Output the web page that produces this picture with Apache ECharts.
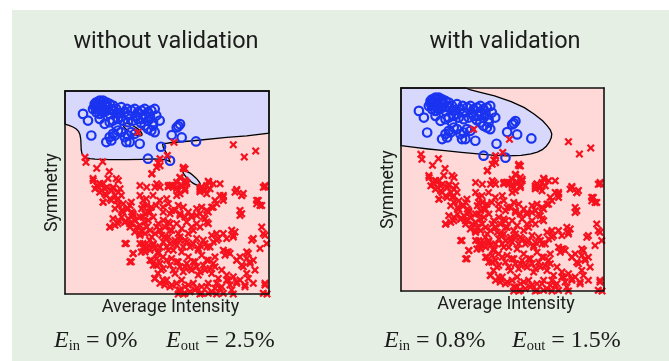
<!DOCTYPE html>
<html><head><meta charset="utf-8">
<script src="https://cdn.jsdelivr.net/npm/echarts@6/dist/echarts.min.js"></script>
<style>
html,body{margin:0;padding:0;background:#fff;}
#wrap{position:relative;width:669px;height:361px;background:#fff;overflow:hidden;}
#bg{position:absolute;left:12px;top:10px;right:0;bottom:0;background:#e5efe3;}
#c{position:absolute;left:0;top:0;width:669px;height:361px;}
</style>
</head><body>
<div id="wrap"><div id="bg"></div><div id="c"></div></div>
<script>
// ---------- data ----------
const panelTitles = ['without validation', 'with validation'];
const xName = 'Average Intensity';
const yName = 'Symmetry';
const errIn = ['0%', '0.8%'];
const errOut = ['2.5%', '1.5%'];

// digit "1" samples (blue circles): [average intensity, symmetry]
const blueCircles = [
[18,181],[23,174.3],[26.3,159.3],[29.7,191],[31.3,192.7],[34.7,194.3],[38,194.3],[41.3,192.7],[44.7,191],[33,187.7],
[36.3,189.3],[39.7,189.3],[43,187.7],[48,189.3],[28,186],[31.3,182.7],[34.7,181],[38,182.7],[41.3,184.3],[44.7,181],
[48,184.3],[51.3,186],[56.3,187.7],[59.7,182.7],[63,179.3],[66.3,184.3],[69.7,186],[73,182.7],[76.3,184.3],[79.7,186],
[83,182.7],[86.3,184.3],[89.7,186],[91.3,179.3],[94.7,174.3],[88,172.7],[83,174.3],[78,176],[73,176],[68,174.3],
[63,172.7],[58,174.3],[53,176],[48,174.3],[44.7,172.7],[39.7,171],[34.7,176],[51.3,169.3],[53,164.3],[48,161],
[44.7,157.7],[41.3,152.7],[46.3,154.3],[49.7,159.3],[56.3,162.7],[59.7,157.7],[63,159.3],[66.3,162.7],[69.7,161],[74.7,151],
[64.7,152.7],[61.3,152.7],[79.7,169.3],[83,166],[86.3,164.3],[89.7,162.7],[88,169.3],[96,148],[83,136],[105,134],
[111.7,167.3],[115,170.7],[106.7,159.7],[116.7,157.3],[131,153.3],[113.3,168.7],
[32,190],[36,192],[40,191],[42,189],[35,185],[30,188],[46,186],[38,186],[54,182],[62,186],[71,179],[56,178],[80,180],[85,178],[76,172]
];

// digit "5" samples (red crosses): [average intensity, symmetry]
const redCrosses = [
[73,162.5],[168.3,150],[190.7,143.7],[179.3,137.7],[109,152.5],[102.3,139.3],[95,136],[95,129],
[118.3,126],[115,116.7],[120,114.3],[116.7,109.3],[111.7,106],[106.7,109.3],[103.3,107.7],[120,106],[143.3,113.3],[136.7,107.7],[140,104.3],[135,102.7],[171.7,105],[200,107.7],[178.3,101],
[20,137.3],[21,132.3],[31.7,126.3],[37.7,133],[44.3,123],[28.3,114],[31.7,109],[35,110.7],[30,105.7],[36.7,104],[53.3,114],[48.3,107.3],[53.3,102.3],[86.7,120.7],[91.7,127.3],[93.3,131.7],[118.3,127.3],[120,125.7],[115,117.3],[111.7,112.3],[116.7,109],[121.7,112.3],[108.3,107.3],[113.3,104],[93.3,109],[90,107.3],[103.3,109],[135,105.7],[141.7,109],[138.3,104],[158.3,99],[170,102.3],[200,109],
[43,116],[51.3,116],[28,116],[33,107.7],[39.7,106],[34.7,111],[48,106],[143.7,112.3],[136.4,107.3],[87,121],
[38.3,110.7],[41.7,107.3],[40,100.7],[46.7,104],[50,99],[45,95.7],[51.7,94],[38.3,92.3],[55,105.7],
[53.3,89],[56.7,84],[58.3,90.7],[61.7,85.7],[65,89],[66.7,82.3],[50,85.7],
[45,67.3],[50,69],[53.3,74],[56.7,77.3],[60,72.3],[63.3,75.7],[66.7,70.7],[70,74],[68.3,79],[65,67.3],
[60,50.7],[68.3,40.7],[65,32.3],
[75,99],[78.3,94],[81.7,89],[76.7,85.7],[80,80.7],[75,77.3],[85,82.3],[88.3,77.3],[83.3,74],
[71.7,67.3],[76.7,64],[75,59],[80,60.7],[81.7,67.3],[85,64],[86.7,57.3],[90,60.7],[91.7,67.3],[95,64],[93.3,70.7],[98.3,74],[96.7,59],[101.7,55.7],[100,67.3],[105,64],[103.3,72.3],
[75,50.7],[78.3,47.3],[80,42.3],[83.3,49],[85,44],[88.3,50.7],[90,45.7],[93.3,40.7],[95,47.3],[98.3,52.3],[101.7,47.3],[105,50.7],[108.3,44],[111.7,49],[115,54],[118.3,47.3],[121.7,52.3],[125,47.3],[128.3,50.7],[131.7,55.7],[133.3,44],[135,49],[138.3,54],[141.7,47.3],
[85,34],[88.3,29],[91.7,35.7],[95,30.7],[98.3,25.7],[101.7,34],[105,29],[108.3,24],[111.7,32.3],[115,27.3],[118.3,22.3],[121.7,30.7],[125,25.7],[128.3,32.3],[131.7,27.3],[135,22.3],[138.3,29],[141.7,34],[145,25.7],[148.3,30.7],[150,37.3],
[90,15.7],[95,10.7],[101.7,14],[105,7.3],[111.7,10.7],[115,4],[120,7.3],[125,2.3],[128.3,10.7],[131.7,5.7],[136.7,0.7],[141.7,7.3],[146.7,2.3],[151.7,10.7],[155,5.7],[158.3,0.7],[161.7,14],[165,9],[168.3,17.3],[171.7,12.3],
[113.3,0],[118.3,0],[135,0],[151.7,0],[168.3,0],[198.3,0.7],[202,0],
[171.7,104],[176.7,99],[175,84],[176.7,80.7],[191.7,94],[195,89],[198.3,107.3],[196.7,67.3],[198.3,60.7],[188.3,55.7],[195,45.7],[201.7,50.7],[200,9],
[155,99],[158.3,94],[151.7,90.7],[148.3,87.3],[143.3,82.3],[138.3,77.3],[141.7,72.3],[135,67.3],[128.3,64],[131.7,70.7],[146.7,59],[151.7,54],[158.3,60.7],[161.7,55.7],[166.7,64],[168.3,59],[158.3,44],[161.7,42.3],[165,40.7],[171.7,34],[175,37.3],[181.7,42.3],[185,32.3],[188.3,34],[178.3,27.3],[181.7,20.7],[183.3,15.7],[175,14],[180,7.3],[188.3,10.7],
[105,80.7],[110,84],[115,79],[118.3,87.3],[123.3,82.3],[126.7,77.3],[131.7,85.7],[135,80.7],[111.7,70.7],[116.7,65.7],[121.7,72.3],[123.3,60.7],[126.7,67.3],[115,57.3],[110,54],[105,70.7],[98.3,82.3],
[75,109],[81.7,107.3],[91.7,110.7],[95,107.3],[105,109],[111.7,107.3],[115,100.7],[120,104],[121.7,110.7],[135,104],[141.7,100.7],[145,105.7],[148.3,110.7],[155,110.7],
[158.3,97.3],[176.7,99],[175,79],[193.3,94],[196.7,89],[191.7,90.7],[200,59],[170,62.3],[168.3,57.3],[186.7,54],[183.3,40.7],[181.7,35.7],[171.7,34],[163.3,42.3],[160,39],[176.7,29],[185,30.7],[190,24],[180,9],[200,10.7],
[150,94],[146.7,87.3],[141.7,84],[136.7,87.3],[131.7,79],[140,75.7],[143.3,70.7],[126.7,79],[120,77.3],[115,80.7],[113.3,89],[106.7,84],[103.3,90.7],[111.7,99],[101.7,95.7],
[151.7,60.7],[153.3,55.7],[148.3,52.3],[145,47.3],[140,50.7],[133.3,45.7],[126.7,49],[120,54],[113.3,60.7],[106.7,64],[103.3,57.3],[110,50.7],[116.7,42.3],[123.3,37.3],[130,32.3],[136.7,39],[143.3,34],[150,27.3],[156.7,24],[161.7,19],[153.3,15.7],[146.7,20.7],[140,24],[133.3,19],[126.7,24],[120,27.3],[113.3,32.3],[106.7,35.7],[103.3,44],[110,20.7],[116.7,14],[123.3,9],[130,4],[136.7,7.3],[143.3,10.7],[150,5.7],[156.7,7.3],[163.3,14],[166.7,4],[171.7,10.7],[143.3,0.7],[120,0.7],[113.3,4],[106.7,9],
[34.7,102.3],[41.3,99],[38,92.3],[46.3,94],[53,95.7],[56.3,99],[66.3,92.3],[63,85.7],[58,82.3],[68,80.7],[48,75.7],[53,70.7],[44.7,67.3],[59.7,72.3],[64.7,70.7],[69.7,74],[74.7,69],[79.7,72.3],[78,77.3],[83,82.3],[86.3,87.3],[88,99],[81.3,95.7],[78,89],[91.3,89],[98,87.3],[94.7,94],[74.7,60.7],[69.7,62.3],[61.3,50.7],[68,40.7],[66.3,32.3],[78,50.7],[84.7,54],[81.3,45.7],[88,49],[76.3,42.3],[94.7,64],[99.7,57.3],[93,42.3],[98,37.3],[86.3,34],[91.3,29],[96.3,24],[89.7,15.7],[98,14],[99.7,9],[93,20.7]
];

// decision region of class "1" without validation (boundary traced, then closed along the top)
const regionNoVal = [
[0,170.7],[4,169.5],[8,167.8],[11,166],[13.5,163.5],[15,160],[15.8,155],[16,150],[16.2,145],[17,141],[18.8,138.3],[21.5,136.8],[25,136],[30,135.5],
[45,135],[61.7,135],[78.3,135.3],[88.3,135.7],[96.7,135.3],[101,135],[103.3,133.7],[105,133],[103.3,137.3],[101,142.3],[98.3,147.3],[97.7,150.3],[99,151.3],[101.7,151.3],[105,152],
[128.3,154],[161.7,157.3],[181.7,159],[204,161.7],[204,204],[0,204]
];
// small islands without validation
const islandRed = [[76.9,159.6],[75.4,163.4],[69.3,168.3],[62.1,171.4],[58.1,171.0],[59.6,167.2],[65.7,162.3],[72.9,159.2]];
const islandBlue = [[135.1,109.2],[134.0,112.9],[128.6,118.6],[122.1,122.9],[118.3,123.4],[119.4,119.7],[124.8,114.0],[131.3,109.7]];

// decision region of class "1" with validation
const regionVal = [
[0,146],[14,144.3],[27.3,142.7],[44,141],[60.7,139.3],[77.3,137.7],[94,136.3],[107.3,135.7],[120.7,136.3],[130.7,137.7],
[137,139.5],[142,142],[146,145.5],[149,149.5],[151,154],[151.5,158],[150,162],[147,166],[142.3,171],[134,177.7],[124,184.3],
[110.7,190.3],[94,196],[80.7,199.3],[70,202],[65,204],[0,204]
];

// ---------- chart ----------
const PINK = '#ffd8d8', LAV = '#d7d8fb', BLUE = '#1a33f0', RED = '#f5121e', INK = '#1c1c1c';
const XSYM = 'path://M2,0L5,3L8,0L10,2L7,5L10,8L8,10L5,7L2,10L0,8L3,5L0,2Z';
const SANS = 'Roboto';
const grids = [
  {left: 65, top: 91, width: 204, height: 203},
  {left: 401, top: 88, width: 203, height: 203}
];

function axisBase(gi) {
  return {type: 'value', gridIndex: gi, min: 0, max: 204, z: 10,
    axisTick: {show: false}, axisLabel: {show: false}, splitLine: {show: false},
    axisLine: {show: true, onZero: false, lineStyle: {color: '#111', width: 1.6}}};
}
const xAxes = [], yAxes = [];
grids.forEach((g, gi) => {
  xAxes.push(Object.assign(axisBase(gi), {position: 'bottom', name: xName, nameLocation: 'middle', nameGap: 4,
    nameTextStyle: {fontFamily: SANS, fontSize: 18, color: INK, verticalAlign: 'top', padding: [0, 0, 0, 7]}}));
  xAxes.push(Object.assign(axisBase(gi), {position: 'top'}));
  yAxes.push(Object.assign(axisBase(gi), {position: 'left', name: yName, nameLocation: 'middle', nameGap: 3,
    nameTextStyle: {fontFamily: SANS, fontSize: 17.5, color: INK, verticalAlign: 'bottom'}}));
  yAxes.push(Object.assign(axisBase(gi), {position: 'right'}));
});

function polySeries(gi, pts, fill, smooth) {
  return {type: 'custom', coordinateSystem: 'cartesian2d', xAxisIndex: gi * 2, yAxisIndex: gi * 2,
    data: [[pts[0][0], pts[0][1]]], silent: true, z: 1,
    renderItem: (params, api) => ({type: 'polygon',
      shape: {points: pts.map(p => api.coord(p)), smooth: smooth || 0},
      style: {fill: fill, stroke: '#000', lineWidth: 1.3}})};
}
function scatterSeries(gi, data, isRed) {
  return isRed ?
    {type: 'scatter', xAxisIndex: gi * 2, yAxisIndex: gi * 2, data: data, symbol: XSYM, symbolSize: 8, clip: false, silent: true, z: 3,
      itemStyle: {color: RED, opacity: 1}} :
    {type: 'scatter', xAxisIndex: gi * 2, yAxisIndex: gi * 2, data: data, symbol: 'circle', symbolSize: 8.5, clip: false, silent: true, z: 3,
      itemStyle: {color: 'rgba(0,0,0,0)', borderColor: BLUE, borderWidth: 2.2, opacity: 1}};
}

const series = [
  polySeries(0, regionNoVal, LAV),
  polySeries(0, islandRed, PINK, 0.6),
  polySeries(0, islandBlue, LAV, 0.6),
  scatterSeries(0, blueCircles, false),
  scatterSeries(0, redCrosses, true),
  polySeries(1, regionVal, LAV),
  scatterSeries(1, blueCircles, false),
  scatterSeries(1, redCrosses, true)
];

const serif = 'Liberation Serif';
const FS = 24;
const rich = {
  e: {fontFamily: serif, fontStyle: 'italic', fontWeight: 'normal', fontSize: FS, lineHeight: 26, color: INK},
  s: {fontFamily: serif, fontWeight: 'normal', fontSize: 14.5, lineHeight: 12, verticalAlign: 'bottom', color: INK},
  r: {fontFamily: serif, fontWeight: 'normal', fontSize: FS, lineHeight: 26, color: INK}
};
function formula(sub, val, left, top) {
  return {text: '{e|E}{s|' + sub + '}{r| = ' + val + '}', left: left, top: top, padding: 0,
    textStyle: {rich: rich, fontSize: FS, fontWeight: 'normal', lineHeight: 26}};
}
const titleStyle = {fontFamily: SANS, fontSize: 23.5, fontWeight: 'normal', color: INK, lineHeight: 26};
const titles = [
  {text: panelTitles[0], left: 166, top: 29, textAlign: 'center', padding: 0, textStyle: titleStyle},
  {text: panelTitles[1], left: 505, top: 29, textAlign: 'center', padding: 0, textStyle: titleStyle},
  formula('in', errIn[0], 54, 328),
  formula('out', errOut[0], 166, 328),
  formula('in', errIn[1], 384, 328),
  formula('out', errOut[1], 512, 328)
];

const chart = echarts.init(document.getElementById('c'), null, {renderer: 'canvas'});
chart.setOption({
  animation: false,
  backgroundColor: 'transparent',
  title: titles,
  grid: grids.map(g => Object.assign({show: true, backgroundColor: PINK, borderWidth: 0}, g)),
  xAxis: xAxes,
  yAxis: yAxes,
  series: series
});
</script>
</body></html>
